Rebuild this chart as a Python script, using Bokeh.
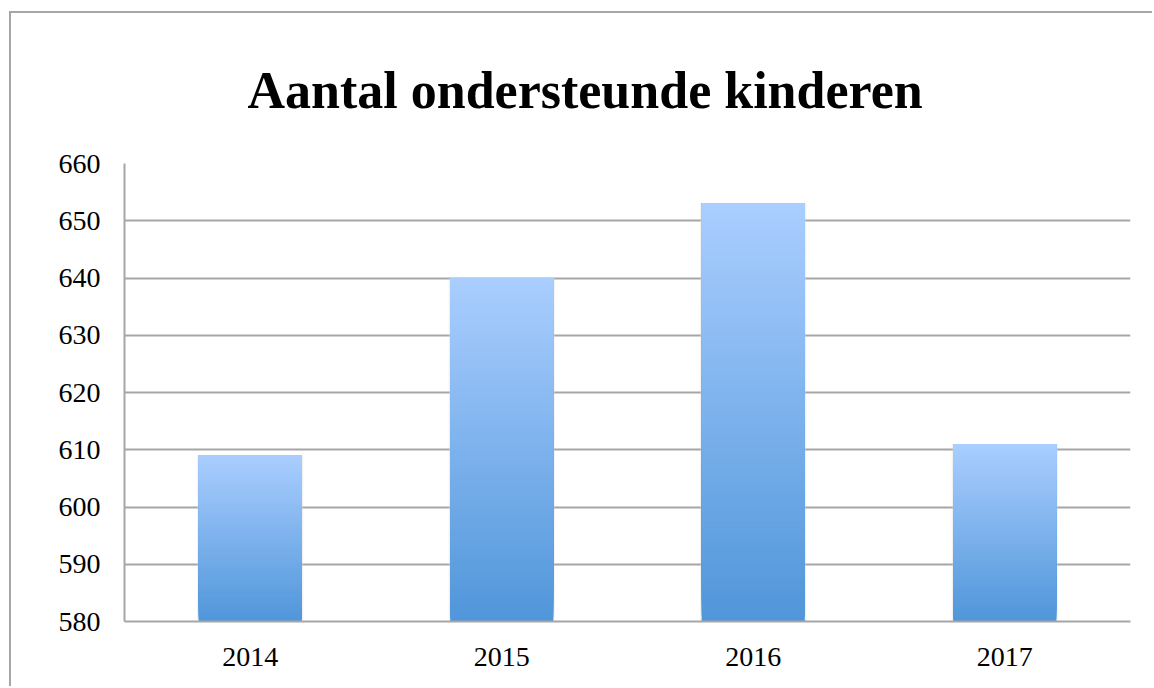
from bokeh.plotting import figure
from bokeh.models import ColumnDataSource, FactorRange, Range1d, FixedTicker
from bokeh.embed import file_html
from bokeh.resources import INLINE

years = ["2014", "2015", "2016", "2017"]
values = [609, 640, 653, 611]
y_ticks = [580, 590, 600, 610, 620, 630, 640, 650, 660]
title_text = "Aantal ondersteunde kinderen"

y_min, y_max = 580, 660
top_color = (170, 206, 255)
bottom_color = (80, 150, 218)
n_slices = 80
bar_width = 0.41

def hexcol(c):
    return "#%02x%02x%02x" % tuple(int(round(v)) for v in c)

# gradient: stacked layers from each bar's base up to its value, lighter layers drawn last
xs, bots, tops, cols = [], [], [], []
for yr, v in zip(years, values):
    h = v - y_min
    for i in range(n_slices):
        f = i / n_slices
        c = tuple(bottom_color[k] + (top_color[k] - bottom_color[k]) * (i + 0.5) / n_slices for k in range(3))
        xs.append(yr)
        bots.append(y_min + h * f)
        tops.append(v)
        cols.append(hexcol(c))

src = ColumnDataSource(dict(x=xs, bottom=bots, top=tops, color=cols))
shadow = ColumnDataSource(dict(x=years, top=values))

p = figure(x_range=FactorRange(*years, range_padding=0), y_range=Range1d(y_min, y_max),
           width=1143, height=675, output_backend="svg", toolbar_location=None,
           min_border_left=113, min_border_right=24, min_border_top=150, min_border_bottom=67)
p.margin = (11, 0, 0, 9)
p.styles = {"border-left": "2px solid #a6a6a6", "border-top": "2px solid #a6a6a6"}

p.vbar(x="x", top="top", bottom=y_min, width=bar_width + 0.012, source=shadow,
       fill_color="#d8d8d8", fill_alpha=0.35, line_color=None)
p.vbar(x="x", top="top", bottom="bottom", width=bar_width, source=src,
       fill_color="color", line_color=None)

p.title.text = title_text
p.title.align = "left"
p.title.offset = 123
p.title.text_font = "Liberation Serif"
p.title.text_font_style = "bold"
p.title.text_font_size = "52px"
p.title.text_color = "#000000"
p.title.standoff = 89

p.outline_line_color = None
p.xgrid.grid_line_color = None
p.ygrid.grid_line_color = "#a6a6a6"
p.ygrid.grid_line_width = 2
p.yaxis.ticker = FixedTicker(ticks=y_ticks)
for ax in (p.xaxis, p.yaxis):
    ax.axis_line_color = "#a6a6a6"
    ax.axis_line_width = 2
    ax.major_tick_line_color = None
    ax.minor_tick_line_color = None
    ax.major_label_text_font = "Liberation Serif"
    ax.major_label_text_font_size = "28px"
    ax.major_label_text_color = "#000000"
p.yaxis.major_label_standoff = 18
p.xaxis.major_label_standoff = 20

open("out.html", "w").write(file_html(p, INLINE))
